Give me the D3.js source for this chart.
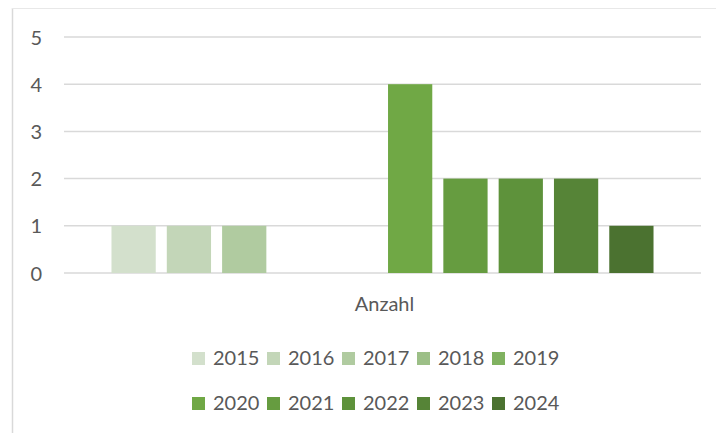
<!DOCTYPE html>
<html><head><meta charset="utf-8">
<script src="https://cdn.jsdelivr.net/npm/d3@7"></script>
<style>body{margin:0;background:#fff}svg{display:block}text{font-family:Lato,"Liberation Sans",sans-serif;fill:#595959}</style>
</head><body>
<svg id="c" width="716" height="433"></svg>
<script>
const categories = ["Anzahl"];
const years = ["2015","2016","2017","2018","2019","2020","2021","2022","2023","2024"];
const values = [1,1,1,0,0,4,2,2,2,1];
const colors = ["#d3e0cc","#c3d6b8","#b0cba0","#9cbf87","#80b260","#70a845","#669c40","#5e923b","#568437","#4b7230"];
const yTicks = [0,1,2,3,4,5];

const svg = d3.select("#c");
const W = 716, H = 433;
const plot = {left:64, right:701, top:37, bottom:273};

// chart border (only left and top visible)
svg.append("line").attr("x1",12.5).attr("x2",12.5).attr("y1",8).attr("y2",H).attr("stroke","#d9d9d9").attr("stroke-width",1.5);
svg.append("line").attr("x1",12).attr("x2",W).attr("y1",8.5).attr("y2",8.5).attr("stroke","#e8e8e8").attr("stroke-width",1);

const y = d3.scaleLinear().domain([0,5]).range([plot.bottom, plot.top]);
const x0 = d3.scaleBand().domain(categories).range([plot.left, plot.right]).paddingOuter(0.0876).paddingInner(0);
const x1 = d3.scaleBand().domain(years).range([0, x0.bandwidth()]).paddingInner(0.2).paddingOuter(0);

// gridlines
svg.append("g").selectAll("line").data(yTicks).join("line")
  .attr("x1",plot.left).attr("x2",plot.right)
  .attr("y1",d=>y(d)).attr("y2",d=>y(d))
  .attr("stroke","#d9d9d9").attr("stroke-width",1.5);

// y axis labels
const yAxis = d3.axisLeft(y).tickValues(yTicks).tickFormat(d3.format("d")).tickSize(0).tickPadding(22);
const ga = svg.append("g").attr("transform",`translate(${plot.left},0)`).call(yAxis);
ga.select(".domain").remove();
ga.selectAll("text").attr("font-size",20).style("font-family","Lato,'Liberation Sans',sans-serif").attr("fill","#595959").attr("dy","0.35em");

// bars
const gc = svg.append("g").selectAll("g").data(categories).join("g")
  .attr("transform",d=>`translate(${x0(d)},0)`);
gc.selectAll("rect").data(years.map((yr,i)=>({yr, v:values[i], c:colors[i]}))).join("rect")
  .attr("x",d=>x1(d.yr)).attr("width",x1.bandwidth())
  .attr("y",d=>y(d.v)).attr("height",d=>y(0)-y(d.v))
  .attr("fill",d=>d.c);

// category label
svg.append("g").selectAll("text").data(categories).join("text")
  .attr("x",d=>x0(d)+x0.bandwidth()/2+2).attr("y",311)
  .attr("text-anchor","middle").attr("font-size",20).text(d=>d);

// legend
const leg = svg.append("g");
const items = leg.selectAll("g").data(years).join("g")
  .attr("transform",(d,i)=>`translate(${192 + (i%5)*75},${i<5 ? 352 : 397})`);
items.append("rect").attr("width",13).attr("height",13).attr("fill",(d,i)=>colors[i]);
items.append("text").attr("x",21).attr("y",13).attr("font-size",20).text(d=>d);
</script>
</body></html>
